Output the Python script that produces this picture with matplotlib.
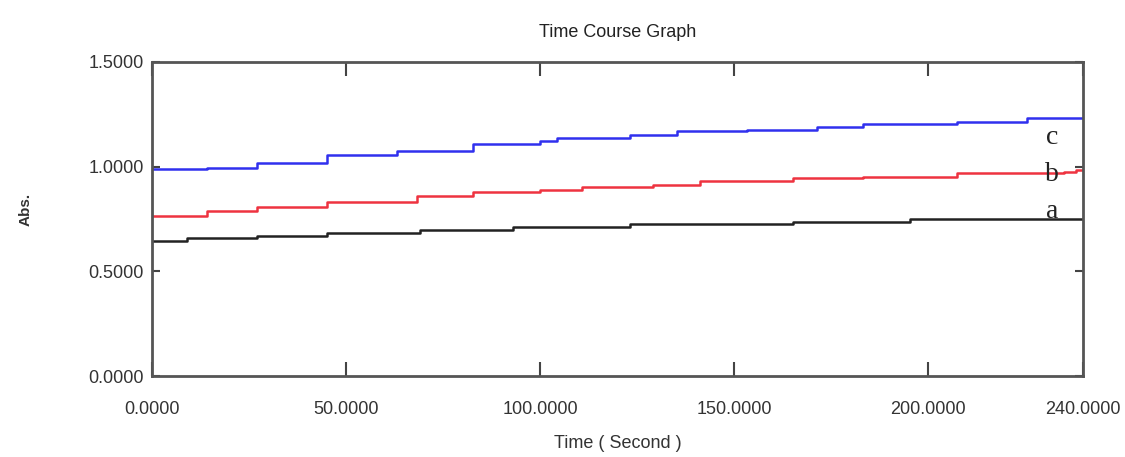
import matplotlib
matplotlib.use("Agg")
from matplotlib import pyplot as plt

# step readings (time in s, absorbance)
t_a = [0, 9.0, 27.1, 45.1, 69.1, 93.1, 123.2, 165.3, 195.4, 240]
abs_a = [0.643, 0.657, 0.667, 0.681, 0.695, 0.710, 0.724, 0.733, 0.748, 0.748]

t_b = [0, 14.2, 27.1, 45.1, 68.3, 82.8, 100.0, 110.9, 129.2, 141.3, 165.3, 183.3, 207.5, 235.0, 238.0, 240]
abs_b = [0.762, 0.786, 0.805, 0.833, 0.857, 0.876, 0.890, 0.900, 0.914, 0.929, 0.943, 0.952, 0.971, 0.976, 0.985, 0.985]

t_c = [0, 14.2, 27.1, 45.1, 63.2, 82.8, 100.0, 104.4, 123.2, 135.3, 153.4, 171.4, 183.3, 207.5, 225.6, 240]
abs_c = [0.986, 0.995, 1.019, 1.057, 1.076, 1.105, 1.124, 1.138, 1.152, 1.167, 1.176, 1.190, 1.205, 1.214, 1.233, 1.233]

xticks = [0, 50, 100, 150, 200, 240]
yticks = [0.0, 0.5, 1.0, 1.5]

plt.rcParams['font.family'] = ['Liberation Sans', 'DejaVu Sans']

fig = plt.figure(figsize=(11.25, 4.57), dpi=100)
ax = fig.add_axes([0.135, 0.177, 0.828, 0.688])

ax.plot(t_a, abs_a, drawstyle='steps-post', color='#222222', lw=1.8)
ax.plot(t_b, abs_b, drawstyle='steps-post', color='#ee3340', lw=1.8)
ax.plot(t_c, abs_c, drawstyle='steps-post', color='#3030ee', lw=1.8)

# curve labels on the right
for txt, yv in [('c', 1.138), ('b', 0.962), ('a', 0.786)]:
    ax.text(232, yv, txt, family='Liberation Serif', fontsize=20,
            ha='center', va='center', color='#222222')

ax.set_xlim(0, 240)
ax.set_ylim(0, 1.5)
ax.set_xticks(xticks)
ax.set_xticklabels(['%.4f' % v for v in xticks])
ax.set_yticks(yticks)
ax.set_yticklabels(['%.4f' % v for v in yticks])

ax.tick_params(axis='x', direction='in', length=10, width=1.5, top=True,
               pad=18, labelsize=13, labelcolor='#333333', color='#444444')
ax.tick_params(axis='y', direction='in', length=6, width=1.5, right=True,
               pad=6, labelsize=13, labelcolor='#333333', color='#444444')
for s in ax.spines.values():
    s.set_linewidth(2)
    s.set_color('#555555')

ax.set_title('Time Course Graph', fontsize=13, color='#222222', pad=18)
ax.set_xlabel('Time ( Second )', fontsize=13, color='#333333', labelpad=12)
ax.set_ylabel('Abs.', fontsize=11, color='#333333', fontweight='bold')
ax.yaxis.set_label_coords(-0.128, 0.53)

fig.savefig('out.png', dpi=100)
